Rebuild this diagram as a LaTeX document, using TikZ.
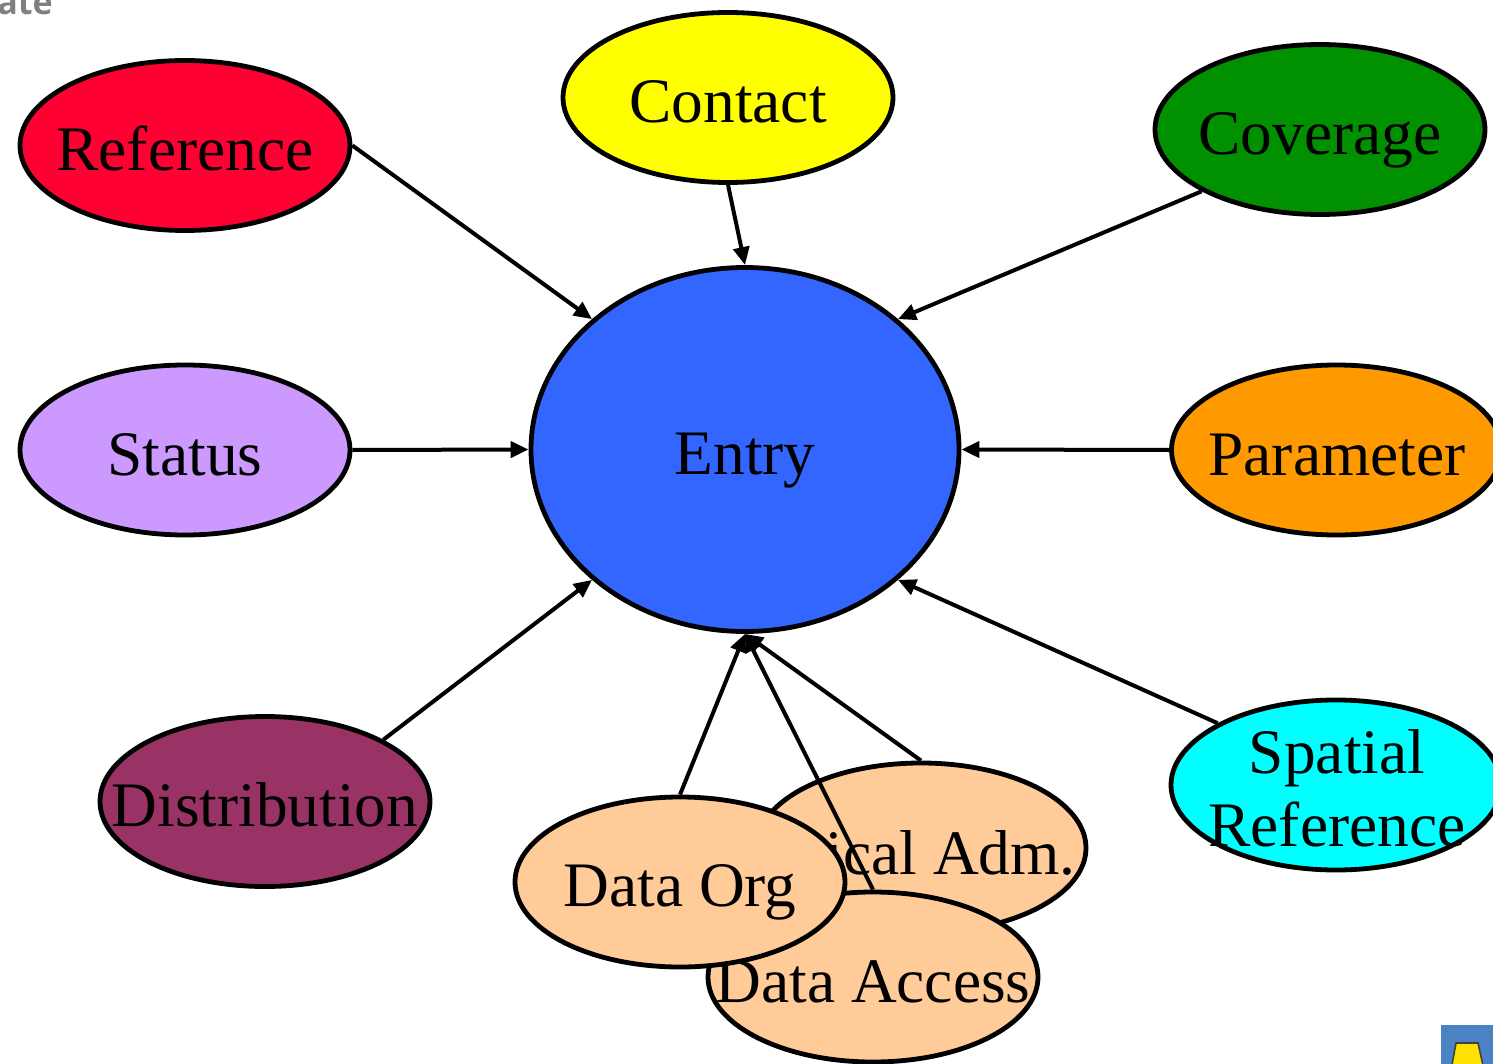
\documentclass[tikz,border=0pt]{standalone}
\usepackage{fontspec}
\setmainfont{Liberation Serif}
\newfontfamily\grayfont{Open Sans}
\usetikzlibrary{shapes.geometric,arrows.meta,calc}
\definecolor{cRef}{HTML}{FF0033}
\definecolor{cCon}{HTML}{FFFF00}
\definecolor{cCov}{HTML}{009000}
\definecolor{cSta}{HTML}{CC99FF}
\definecolor{cEnt}{HTML}{3366FF}
\definecolor{cPar}{HTML}{FF9900}
\definecolor{cDis}{HTML}{993366}
\definecolor{cSpa}{HTML}{00FFFF}
\definecolor{cPea}{HTML}{FFCC99}
\definecolor{cIcon}{HTML}{4A82C4}
\definecolor{cIconY}{HTML}{FFE000}
\begin{document}
\begin{tikzpicture}[x=0.5pt,y=-0.5pt,
  el/.style={ellipse, draw=black, line width=2.4pt, minimum width=165pt, minimum height=85pt, inner sep=0pt},
  lbl/.style={anchor=base, font=\fontsize{31.7}{36.5}\selectfont, inner sep=0pt},
  arr/.style={line width=2pt, -{Triangle[length=9pt,width=8pt]}}]
\useasboundingbox (0,0) rectangle (1493,1064);
\clip (0,0) rectangle (1493,1064);

% corner artefacts
\node[anchor=base west, inner sep=0pt, text=black!50, font=\grayfont\bfseries\fontsize{17}{20}\selectfont] (tmpl) at (-3,15) {ate};
\fill[cIcon] (1441,1025) rectangle (1493,1064);
\filldraw[fill=cIconY, draw=black!75, line width=0.8pt] (1456,1043) -- (1478,1043) -- (1484,1070) -- (1451,1070) -- cycle;

% ellipses
\node[el, fill=cRef] (ref) at (185,145.5) {};
\node[lbl] (ref-t) at (185,171) {Reference};
\node[el, fill=cCon] (con) at (728,97.5) {};
\node[lbl] (con-t) at (728,123) {Contact};
\node[el, fill=cCov] (cov) at (1320,129.5) {};
\node[lbl] (cov-t) at (1320,155) {Coverage};
\node[el, fill=cSta] (sta) at (185,450) {};
\node[lbl] (sta-t) at (185,475) {Status};
\node[ellipse, draw=black, line width=2.4pt, minimum width=214pt, minimum height=182pt, inner sep=0pt, fill=cEnt] (ent) at (745,449.5) {};
\node[lbl] (ent-t) at (745,474) {Entry};
\node[el, fill=cPar] (par) at (1336.5,450) {};
\node[lbl] (par-t) at (1337,475) {Parameter};
\node[el, fill=cDis] (dis) at (265,801.5) {};
\node[lbl] (dis-t) at (265,826) {Distribution};
\node[el, fill=cSpa] (spa) at (1336,785) {};
\node[lbl, anchor=center, align=center] (spa-t) at (1337,788) {Spatial\\Reference};

\node[el, fill=cPea] (tec) at (921,848) {};
\node[lbl, anchor=base east] (tec-t) at (1076,874) {Technical Adm.};

% connectors
\draw[arr] (ref.east) -- (ent.north west);
\draw[arr] (con.south) -- (ent.north);
\draw[arr] (cov.south west) -- (ent.north east);
\draw[arr] (sta.east) -- (ent.west);
\draw[arr] (par.west) -- (ent.east);
\draw[arr] (dis.north east) -- (ent.south west);
\draw[arr] (spa.north west) -- (ent.south east);
\draw[arr] (tec.north) -- (ent.south);

\node[el, fill=cPea] (acc) at (873,977) {};
\draw[arr] (acc.north) -- (ent.south);
\node[lbl] (acc-t) at (873,1002) {Data Access};
\node[el, fill=cPea] (dor) at (680,882) {};
\node[lbl] (dor-t) at (680,906) {Data Org};
\draw[arr] (dor.north) -- (ent.south);
\end{tikzpicture}
\end{document}
